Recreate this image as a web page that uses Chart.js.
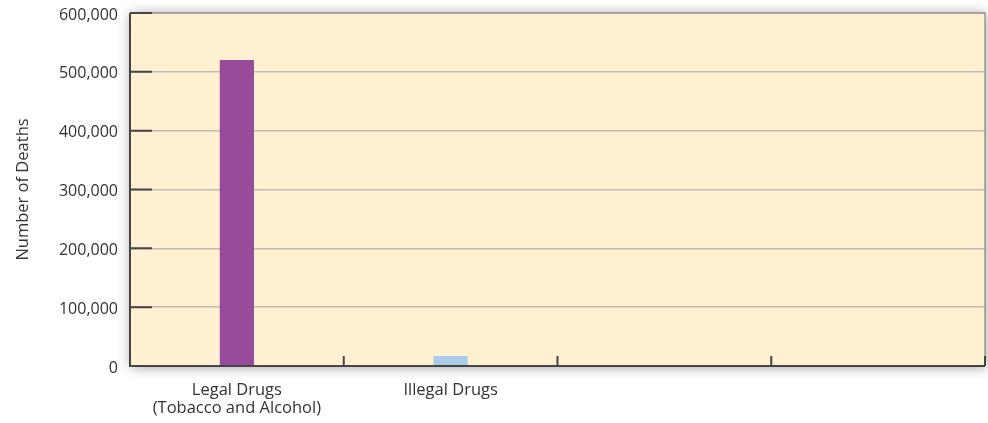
<html>
<head>
<meta charset="utf-8" />
<title>Number of Deaths - Legal and Illegal Drugs</title>
<script src="https://cdn.jsdelivr.net/npm/chart.js@4"></script>
<style>
  body { margin: 0; background: #fff; }
  #wrap { width: 988px; height: 423px; }
</style>
<script>
  // categories and values
  const categorias = [['Legal Drugs', '(Tobacco and Alcohol)'], 'Illegal Drugs', '', ''];
  const mortes = [520000, 17000, null, null];
  const cores = ['#974b9a', '#a9cde8', '#974b9a', '#974b9a'];
  const yTicks = [0, 100000, 200000, 300000, 400000, 500000, 600000];
  const tituloY = 'Number of Deaths';
</script>
</head>
<body>
<div id="wrap"><canvas id="grafico" width="988" height="423"></canvas></div>
<script>
  const fonte = "'Open Sans', sans-serif";
  const corTexto = '#333333';

  // fundo creme com sombra, bordas e marcas internas dos eixos
  const moldura = {
    id: 'moldura',
    beforeDraw(chart) {
      const { ctx, chartArea: a } = chart;
      ctx.save();
      ctx.shadowColor = 'rgba(0,0,0,0.4)';
      ctx.shadowBlur = 12;
      ctx.shadowOffsetX = 1;
      ctx.shadowOffsetY = 1;
      ctx.fillStyle = '#fef0d0';
      ctx.fillRect(a.left, a.top, a.right - a.left, a.bottom - a.top);
      ctx.restore();
    },
    afterDatasetsDraw(chart) {
      const { ctx, chartArea: a, scales } = chart;
      ctx.save();
      // bordas superior e direita
      ctx.strokeStyle = '#9a9890';
      ctx.lineWidth = 1.5;
      ctx.beginPath();
      ctx.moveTo(a.left, a.top);
      ctx.lineTo(a.right, a.top);
      ctx.lineTo(a.right, a.bottom);
      ctx.stroke();
      // eixos esquerdo e inferior
      ctx.strokeStyle = '#454545';
      ctx.lineWidth = 2;
      ctx.beginPath();
      ctx.moveTo(a.left, a.top);
      ctx.lineTo(a.left, a.bottom);
      ctx.lineTo(a.right, a.bottom);
      ctx.stroke();
      // marcas do eixo y para dentro
      ctx.beginPath();
      yTicks.forEach(v => {
        const y = scales.y.getPixelForValue(v);
        ctx.moveTo(a.left, y);
        ctx.lineTo(a.left + 22, y);
      });
      // marcas do eixo x entre as categorias
      const n = categorias.length;
      for (let i = 1; i <= n; i++) {
        const x = i < n
          ? (scales.x.getPixelForValue(i - 1) + scales.x.getPixelForValue(i)) / 2
          : a.right;
        ctx.moveTo(x, a.bottom);
        ctx.lineTo(x, a.bottom - 10);
      }
      ctx.stroke();
      ctx.restore();
    }
  };

  new Chart(document.getElementById('grafico'), {
    type: 'bar',
    data: {
      labels: categorias,
      datasets: [{
        data: mortes,
        backgroundColor: cores,
        borderWidth: 0,
        barPercentage: 0.16,
        categoryPercentage: 1
      }]
    },
    options: {
      responsive: false,
      animation: false,
      layout: { padding: { top: 13, right: 3, left: 0, bottom: 0 } },
      plugins: { legend: { display: false }, tooltip: { enabled: false } },
      scales: {
        x: {
          offset: true,
          grid: { display: false, drawTicks: false },
          border: { display: false },
          ticks: { color: corTexto, font: { family: fonte, size: 16.5, lineHeight: 1.1 }, padding: 15, maxRotation: 0, autoSkip: false },
          afterFit(s) { s.height = 57; s.paddingLeft = 0; s.paddingRight = 0; }
        },
        y: {
          min: 0,
          max: 600000,
          afterBuildTicks(s) { s.ticks = yTicks.map(v => ({ value: v })); },
          grid: { color: '#bfbbb1', lineWidth: 1.6, drawTicks: false },
          border: { display: false },
          ticks: {
            color: corTexto,
            font: { family: fonte, size: 16 },
            padding: 12,
            labelOffset: 2,
            callback: v => v.toLocaleString('en-US')
          },
          title: {
            display: true,
            text: tituloY,
            color: corTexto,
            font: { family: fonte, size: 16.5 },
            padding: { top: 13, bottom: 0 }
          },
          afterFit(s) { s.width = 130; s.paddingTop = 0; s.paddingBottom = 0; }
        }
      }
    },
    plugins: [moldura]
  });
</script>
</body>
</html>
